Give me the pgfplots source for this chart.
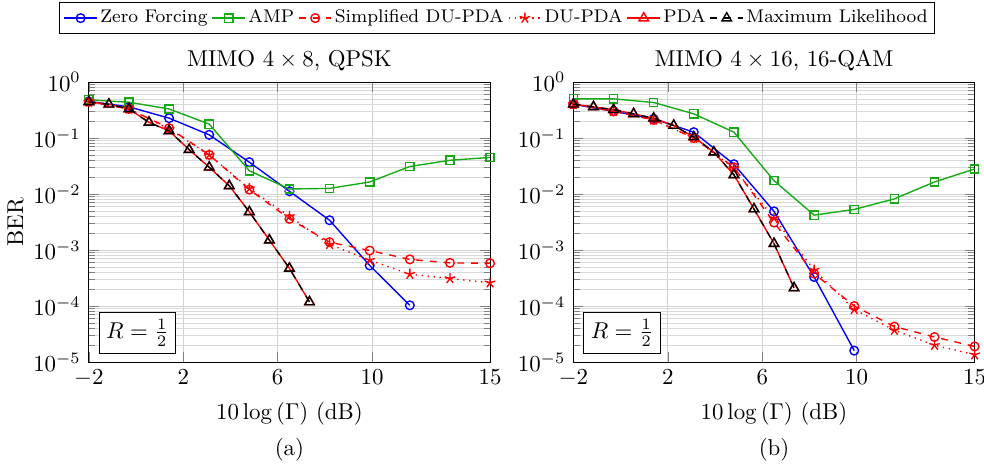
\documentclass[border=0pt]{standalone}
\usepackage{pgfplots}
\pgfplotsset{compat=1.18}
\definecolor{mygreen}{RGB}{20,170,20}
\tikzset{
  zf/.style={blue, semithick, mark=o, mark size=1.9pt, mark options={solid}},
  amp/.style={mygreen, semithick, mark=square, mark size=1.8pt, mark options={solid}},
  sdu/.style={red, semithick, dashed, mark=o, mark size=1.9pt, mark options={solid}},
  du/.style={red, semithick, dotted, mark=star, mark size=2.4pt, mark options={solid}},
  pda/.style={red, semithick, mark=triangle, mark size=2.4pt, mark options={solid}},
  ml/.style={black, semithick, dashed, mark=triangle, mark size=2.4pt, mark options={solid}},
}
\begin{document}
\begin{tikzpicture}
\useasboundingbox (-38.8pt,-45.4pt) rectangle (390.9pt,158.1pt);
\begin{axis}[at={(0pt,0pt)}, anchor=south west,
    scale only axis, width=175.2pt, height=122.3pt,
    clip mode=individual,
    ymode=log, xmin=-2, xmax=15, ymin=1e-5, ymax=1,
    xtick={-2,2,6,10,15},
    ytick={1e-5,1e-4,1e-3,1e-2,1e-1,1},
    xmajorgrids, ymajorgrids, yminorgrids,
    major grid style={gray!35, line width=0.4pt},
    minor grid style={gray!30, line width=0.3pt},
    xlabel={$10\log\left(\Gamma\right)$ (dB)},
    title style={yshift=-4.7pt},
  title={MIMO $4\times 8$, QPSK},
  ylabel={BER},
  ylabel style={yshift=-2.6pt},
  legend columns=6,
  legend image code/.code={\draw[mark repeat=2,mark phase=2] plot coordinates {(0cm,0cm) (0.25cm,0cm) (0.5cm,0cm)};},
  legend style={at={(1.0175,1.228)}, anchor=center, font=\footnotesize, draw=black,
    inner xsep=1.7pt, inner ysep=1.9pt, nodes={inner sep=1.2pt},
    /tikz/every even column/.append style={column sep=0.6pt}},
]
\addplot[zf] coordinates {(-2,0.45) (-0.3,0.36) (1.4,0.226) (3.1,0.114) (4.8,0.037) (6.5,0.0112) (8.2,0.0034) (9.9,5.3e-4) (11.6,1.03e-4)};
\addlegendentry{Zero Forcing}
\addplot[amp] coordinates {(-2,0.48) (-0.3,0.435) (1.4,0.33) (3.1,0.177) (4.8,0.026) (6.5,0.0123) (8.2,0.0126) (9.9,0.0164) (11.6,0.031) (13.3,0.040) (15,0.045)};
\addlegendentry{AMP}
\addplot[sdu] coordinates {(-2,0.44) (-0.3,0.33) (1.4,0.15) (3.1,0.050) (4.8,0.012) (6.5,0.0036) (8.2,0.00138) (9.9,9.8e-4) (11.6,6.8e-4) (13.3,5.9e-4) (15,5.8e-4)};
\addlegendentry{Simplified DU-PDA}
\addplot[du] coordinates {(-2,0.44) (-0.3,0.33) (1.4,0.145) (3.1,0.050) (4.8,0.0125) (6.5,0.0040) (8.2,0.00126) (9.9,6.6e-4) (11.6,3.7e-4) (13.3,3.1e-4) (15,2.6e-4)};
\addlegendentry{DU-PDA}
\addplot[pda] coordinates {(-2,0.44) (-1.15,0.40) (-0.3,0.33) (0.55,0.19) (1.4,0.134) (2.25,0.062) (3.1,0.030) (3.95,0.014) (4.8,0.0048) (5.65,0.0015) (6.5,4.7e-4) (7.35,1.18e-4)};
\addlegendentry{PDA}
\addplot[ml] coordinates {(-2,0.44) (-1.15,0.40) (-0.3,0.33) (0.55,0.19) (1.4,0.134) (2.25,0.062) (3.1,0.030) (3.95,0.014) (4.8,0.0048) (5.65,0.0015) (6.5,4.7e-4) (7.35,1.18e-4)};
\addlegendentry{Maximum Likelihood}
\node[draw=black, fill=white, anchor=south west, inner sep=3pt, minimum width=32pt, minimum height=17pt] at (rel axis cs:0.025,0.03) {$R=\frac{1}{2}$};
\node[anchor=base, yshift=-41pt] at (rel axis cs:0.5,0) {(a)};
\end{axis}
\begin{axis}[at={(211.6pt,0pt)}, anchor=south west,
    scale only axis, width=175.2pt, height=122.3pt,
    clip mode=individual,
    ymode=log, xmin=-2, xmax=15, ymin=1e-5, ymax=1,
    xtick={-2,2,6,10,15},
    ytick={1e-5,1e-4,1e-3,1e-2,1e-1,1},
    xmajorgrids, ymajorgrids, yminorgrids,
    major grid style={gray!35, line width=0.4pt},
    minor grid style={gray!30, line width=0.3pt},
    xlabel={$10\log\left(\Gamma\right)$ (dB)},
    title style={yshift=-4.7pt},
  title={MIMO $4\times 16$, 16-QAM},
]
\addplot[zf] coordinates {(-2,0.40) (-0.3,0.30) (1.4,0.22) (3.1,0.127) (4.8,0.034) (6.5,0.0049) (8.2,3.3e-4) (9.9,1.6e-5)};
\addplot[amp] coordinates {(-2,0.50) (-0.3,0.50) (1.4,0.43) (3.1,0.27) (4.8,0.127) (6.5,0.0173) (8.2,0.0042) (9.9,0.0053) (11.6,0.0082) (13.3,0.0164) (15,0.028)};
\addplot[sdu] coordinates {(-2,0.40) (-0.3,0.30) (1.4,0.21) (3.1,0.10) (4.8,0.030) (6.5,0.0031) (8.2,3.8e-4) (9.9,1.0e-4) (11.6,4.3e-5) (13.3,2.8e-5) (15,1.9e-5)};
\addplot[du] coordinates {(-2,0.40) (-0.3,0.30) (1.4,0.21) (3.1,0.10) (4.8,0.029) (6.5,0.0037) (8.2,4.4e-4) (9.9,8.7e-5) (11.6,3.7e-5) (13.3,2.0e-5) (15,1.35e-5)};
\addplot[pda] coordinates {(-2,0.40) (-1.15,0.36) (-0.3,0.32) (0.55,0.27) (1.4,0.225) (2.25,0.167) (3.1,0.104) (3.95,0.056) (4.8,0.022) (5.65,0.0054) (6.5,0.0013) (7.35,2.1e-4)};
\addplot[ml] coordinates {(-2,0.40) (-1.15,0.36) (-0.3,0.32) (0.55,0.27) (1.4,0.225) (2.25,0.167) (3.1,0.104) (3.95,0.056) (4.8,0.022) (5.65,0.0054) (6.5,0.0013) (7.35,2.1e-4)};
\node[draw=black, fill=white, anchor=south west, inner sep=3pt, minimum width=32pt, minimum height=17pt] at (rel axis cs:0.025,0.03) {$R=\frac{1}{2}$};
\node[anchor=base, yshift=-41pt] at (rel axis cs:0.5,0) {(b)};
\end{axis}
\end{tikzpicture}
\end{document}
